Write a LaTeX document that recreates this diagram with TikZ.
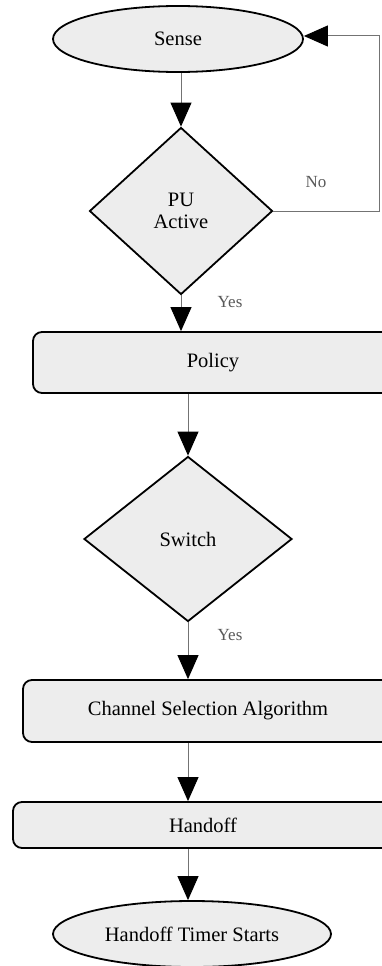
\documentclass[tikz,border=0pt]{standalone}
\usepackage{fontspec}
\setmainfont{Liberation Serif}
\usetikzlibrary{shapes.geometric,arrows.meta}
\tikzset{
  shapefill/.style={draw=black, line width=1.8pt, fill=gray!14, font=\fontsize{20.5}{22}\selectfont, align=center, inner sep=0pt},
  termnode/.style={shapefill, ellipse},
  decnode/.style={shapefill, diamond},
  procnode/.style={shapefill, rectangle, rounded corners=9pt},
  flow/.style={draw=black!55, line width=1pt, -{Triangle[width=21pt,length=24pt,color=black]}},
  lbl/.style={text=black!65, font=\fontsize{17}{19}\selectfont}
}
\begin{document}
\begin{tikzpicture}[x=1pt,y=-1pt]
\useasboundingbox (0,0) rectangle (382,966);
\node[termnode, minimum width=250pt, minimum height=66pt] (sense) at (178,39) {Sense};
\node[decnode, minimum width=183pt, minimum height=167pt] (pu) at (181,211) {PU\\Active};
\node[procnode, minimum width=360pt, minimum height=61pt] (policy) at (213,362.5) {Policy};
\node[decnode, minimum width=208pt, minimum height=165pt] (switch) at (188,539) {Switch};
\node[procnode, minimum width=370pt, minimum height=62pt] (csa) at (208,711) {Channel Selection Algorithm};
\node[procnode, minimum width=380pt, minimum height=46pt] (handoff) at (203,825) {Handoff};
\node[termnode, minimum width=278pt, minimum height=66pt] (timer) at (192,934) {Handoff Timer Starts};
\coordinate (c1) at (379,211);
\coordinate (c2) at (379,36);
\draw[flow] (pu.north |- sense.south) -- (pu.north);
\draw[flow] (pu.east) -- (c1) -- (c2) -- (c2 -| sense.east);
\draw[flow] (pu.south) -- (pu.south |- policy.north);
\draw[flow] (policy.south -| switch.north) -- (switch.north);
\draw[flow] (switch.south) -- (switch.south |- csa.north);
\draw[flow] (csa.south -| switch.south) -- (handoff.north -| switch.south);
\draw[flow] (handoff.south -| switch.south) -- (timer.north -| switch.south);
\node[lbl] (no) at (316,182) {No};
\node[lbl] (yes1) at (230,302) {Yes};
\node[lbl] (yes2) at (230,635) {Yes};
\end{tikzpicture}
\end{document}
